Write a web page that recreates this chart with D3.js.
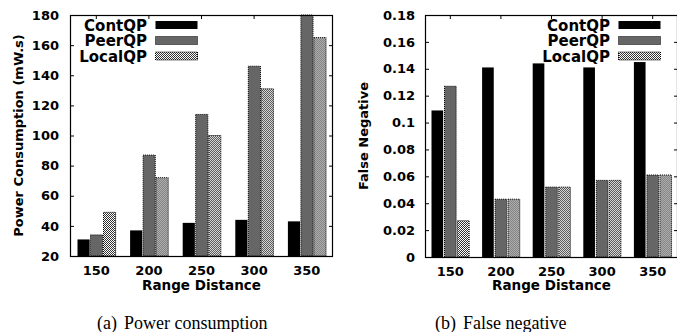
<!DOCTYPE html>
<html>
<head>
<meta charset="utf-8">
<script src="https://cdn.jsdelivr.net/npm/d3@7"></script>
<style>
  body { margin: 0; background: #fff; }
  svg text { font-family: "DejaVu Sans", sans-serif; font-weight: bold; fill: #000; }
  svg text.caption { font-family: "Liberation Serif", "Times New Roman", serif; font-weight: normal; }
</style>
</head>
<body>
<svg width="677" height="332"></svg>
<script>
var svg = d3.select('svg');

// categories + series
var ranges = ['150', '200', '250', '300', '350'];
var seriesNames = ['ContQP', 'PeerQP', 'LocalQP'];

// (a) power consumption, mW.s
var powerContQP = [31, 37, 42, 44, 43];
var powerPeerQP = [34, 87, 114, 146, 180];
var powerLocalQP = [49, 72, 100, 131, 165];
var powerTicks = [20, 40, 60, 80, 100, 120, 140, 160, 180];

// (b) false negative
var fnContQP = [0.109, 0.141, 0.144, 0.141, 0.145];
var fnPeerQP = [0.127, 0.043, 0.052, 0.057, 0.061];
var fnLocalQP = [0.027, 0.043, 0.052, 0.057, 0.061];
var fnTicks = [0, 0.02, 0.04, 0.06, 0.08, 0.1, 0.12, 0.14, 0.16, 0.18];

var grayFill = '#666666';

// checker pattern for LocalQP
var defs = svg.append('defs');
var pat = defs.append('pattern')
    .attr('id', 'checker')
    .attr('patternUnits', 'userSpaceOnUse')
    .attr('width', 2)
    .attr('height', 2);
pat.append('rect').attr('width', 2).attr('height', 2).attr('fill', '#fff');
pat.append('rect').attr('x', 0).attr('y', 0).attr('width', 1).attr('height', 1).attr('fill', '#333');
pat.append('rect').attr('x', 1).attr('y', 1).attr('width', 1).attr('height', 1).attr('fill', '#333');

var fills = {
    ContQP: { fill: '#000', dash: null },
    PeerQP: { fill: grayFill, dash: '1,1' },
    LocalQP: { fill: 'url(#checker)', dash: '1,1' }
};

function drawPanel(p) {
    var g = svg.append('g');

    var x = d3.scaleBand()
        .domain(ranges)
        .range([p.left, p.right])
        .padding(0);

    var xs = d3.scaleBand()
        .domain(seriesNames)
        .range([0, x.bandwidth()])
        .paddingInner(0)
        .paddingOuter(0.5);

    var y = d3.scaleLinear()
        .domain(p.domain)
        .range([p.bottom, p.top]);

    // y axis, ticks pointing inward
    var yAxisG = g.append('g')
        .attr('transform', 'translate(' + p.left + ',0)')
        .call(d3.axisLeft(y).tickValues(p.ticks).tickSize(-4).tickPadding(p.tickPad)
            .tickFormat(d3.format('~g')));
    yAxisG.select('.domain').remove();
    yAxisG.selectAll('text').style('font-size', '13px');
    yAxisG.selectAll('line').attr('stroke', '#000');

    // mirrored ticks on the right
    var yAxisR = g.append('g')
        .attr('transform', 'translate(' + p.right + ',0)')
        .call(d3.axisRight(y).tickValues(p.ticks).tickSize(-4).tickFormat(''));
    yAxisR.select('.domain').remove();

    // x axis bottom
    var xAxisG = g.append('g')
        .attr('transform', 'translate(0,' + p.bottom + ')')
        .call(d3.axisBottom(x).tickSize(-4).tickPadding(10));
    xAxisG.select('.domain').remove();
    xAxisG.selectAll('text').style('font-size', '13px');

    // x axis top ticks
    var xAxisT = g.append('g')
        .attr('transform', 'translate(0,' + p.top + ')')
        .call(d3.axisTop(x).tickSize(-4).tickFormat(''));
    xAxisT.select('.domain').remove();

    // bars
    var rows = ranges.map(function(r, i) {
        return { range: r, values: p.series.map(function(s) { return s[i]; }) };
    });

    var groups = g.selectAll('.grp')
        .data(rows)
        .enter().append('g')
        .attr('class', 'grp')
        .attr('transform', function(d) { return 'translate(' + x(d.range) + ',0)'; });

    groups.selectAll('rect')
        .data(function(d) {
            return seriesNames.map(function(n, k) { return { name: n, value: d.values[k] }; });
        })
        .enter().append('rect')
        .attr('x', function(d) { return Math.round(xs(d.name)) + 0.5; })
        .attr('y', function(d) { return y(d.value); })
        .attr('width', xs.bandwidth() - 1)
        .attr('height', function(d) { return p.bottom - y(d.value); })
        .attr('fill', function(d) { return fills[d.name].fill; })
        .attr('stroke', function(d) { return fills[d.name].dash ? '#000' : 'none'; })
        .attr('stroke-width', 1)
        .attr('stroke-dasharray', function(d) { return fills[d.name].dash; });

    // frame
    g.append('rect')
        .attr('x', p.left + 0.5)
        .attr('y', p.top + 0.5)
        .attr('width', p.right - p.left - 1)
        .attr('height', p.bottom - p.top)
        .attr('fill', 'none')
        .attr('stroke', '#000')
        .attr('stroke-width', 1.2);

    // legend
    var leg = g.selectAll('.leg')
        .data(seriesNames)
        .enter().append('g')
        .attr('class', 'leg')
        .attr('transform', function(d, i) { return 'translate(0,' + (25 + i * 15.5) + ')'; });

    leg.append('rect')
        .attr('x', p.legX + 0.5)
        .attr('y', -4)
        .attr('width', 42)
        .attr('height', 8)
        .attr('fill', function(d) { return fills[d].fill; })
        .attr('stroke', function(d) { return fills[d].dash ? '#000' : 'none'; })
        .attr('stroke-dasharray', function(d) { return fills[d].dash; });
    leg.append('text')
        .attr('x', p.legX - 8)
        .attr('y', 5.5)
        .attr('text-anchor', 'end')
        .style('font-size', '15px')
        .text(function(d) { return d; });

    // axis titles
    g.append('text')
        .attr('x', (p.left + p.right) / 2)
        .attr('y', 290)
        .attr('text-anchor', 'middle')
        .style('font-size', '13.5px')
        .text('Range Distance');

    g.append('text')
        .attr('transform', 'translate(' + p.yTitleX + ',' + ((p.top + p.bottom) / 2) + ') rotate(-90)')
        .attr('text-anchor', 'middle')
        .style('font-size', '13px')
        .text(p.yTitle);

    // caption
    var cap = g.append('text')
        .attr('class', 'caption')
        .attr('x', p.capX)
        .attr('y', 329)
        .style('font-size', '18px');
    cap.append('tspan').text(p.capTag);
    cap.append('tspan').attr('dx', 7).text(p.capText);
}

drawPanel({
    left: 70, right: 333, top: 15, bottom: 256,
    domain: [20, 180], ticks: powerTicks, tickPad: 11,
    series: [powerContQP, powerPeerQP, powerLocalQP],
    legX: 155,
    yTitle: 'Power Consumption (mW.s)', yTitleX: 23,
    capX: 97, capTag: '(a)', capText: 'Power consumption'
});

drawPanel({
    left: 425, right: 678, top: 15, bottom: 257,
    domain: [0, 0.18], ticks: fnTicks, tickPad: 10,
    series: [fnContQP, fnPeerQP, fnLocalQP],
    legX: 618,
    yTitle: 'False Negative', yTitleX: 368,
    capX: 435, capTag: '(b)', capText: 'False negative'
});
</script>
</body>
</html>
